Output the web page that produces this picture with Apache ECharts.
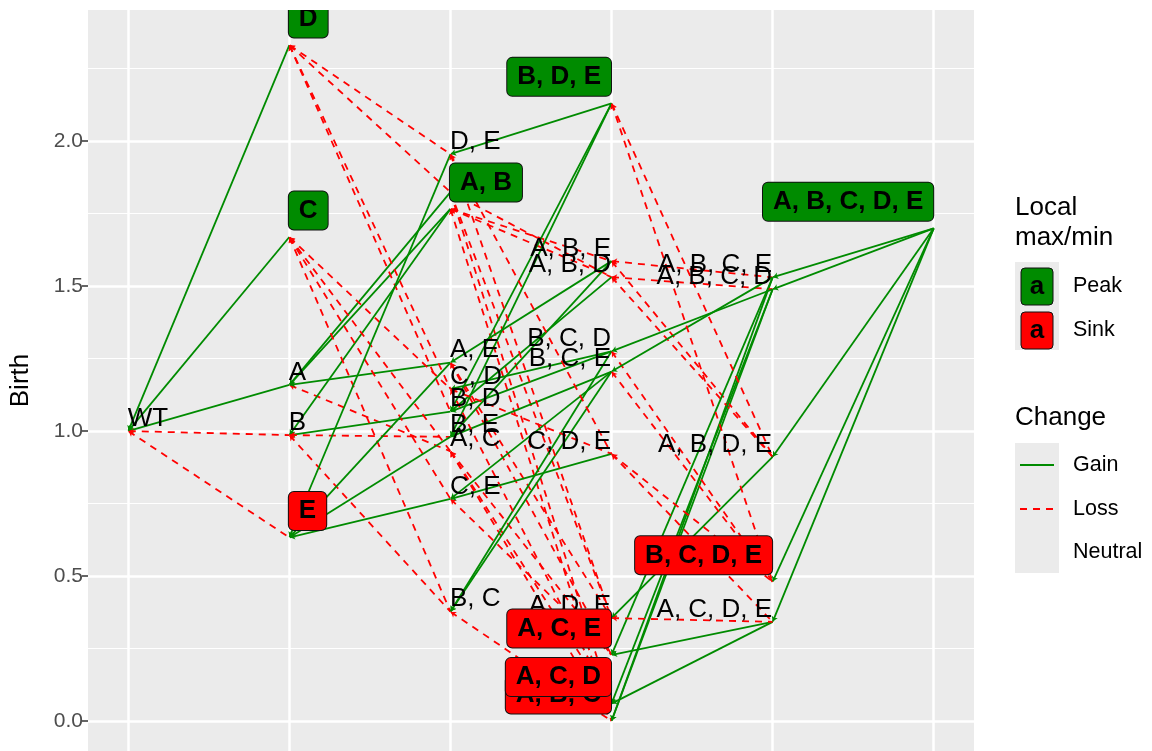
<!DOCTYPE html>
<html>
<head>
<meta charset="utf-8">
<script src="https://cdn.jsdelivr.net/npm/echarts@6/dist/echarts.min.js"></script>
<style>
  html, body { margin: 0; background: #fff; }
  #chart { width: 1152px; height: 751px; }
</style>
</head>
<body>
<div id="chart"></div>
<script>
// genotypes and their birth rate
const genotypes = [
  'WT',
  'A', 'B', 'C', 'D', 'E',
  'A, B', 'A, C', 'A, D', 'A, E', 'B, C', 'B, D', 'B, E', 'C, D', 'C, E', 'D, E',
  'A, B, C', 'A, B, D', 'A, B, E', 'A, C, D', 'A, C, E', 'A, D, E', 'B, C, D', 'B, C, E', 'B, D, E', 'C, D, E',
  'A, B, C, D', 'A, B, C, E', 'A, B, D, E', 'A, C, D, E', 'B, C, D, E',
  'A, B, C, D, E'
]
const birth = [
  1.0,
  1.159, 0.986, 1.669, 2.331, 0.633,
  1.766, 0.93, 1.824, 1.236, 0.377, 1.067, 0.98, 1.145, 0.766, 1.955,
  0.0, 1.531, 1.586, 0.06, 0.228, 0.355, 1.275, 1.205, 2.13, 0.921,
  1.489, 1.53, 0.911, 0.342, 0.48,
  1.699
]
const yTicks = [0, 0.5, 1, 1.5, 2]
const yMinor = [0.25, 0.75, 1.25, 1.75, 2.25]
const xTicks = [0, 1, 2, 3, 4, 5]

const GREEN = '#008B00'
const RED = '#FF0000'
const FONT = '"Liberation Sans", Arial, sans-serif'

const muts = g => g === 'WT' ? [] : g.split(', ')
const level = g => muts(g).length

// one edge per added mutation
const edges = []
genotypes.forEach((p, i) => {
  genotypes.forEach((c, j) => {
    const mp = muts(p), mc = muts(c)
    if (mc.length === mp.length + 1 && mp.every(m => mc.includes(m))) edges.push([i, j])
  })
})

const neighbours = genotypes.map(() => [])
edges.forEach(([i, j]) => { neighbours[i].push(j); neighbours[j].push(i) })
const kind = birth.map((b, i) => {
  if (neighbours[i].every(k => birth[k] < b)) return 'peak'
  if (neighbours[i].every(k => birth[k] > b)) return 'sink'
  return null
})

const nodeLabel = (g, i) => {
  const base = {
    show: true,
    position: [0, 0],
    align: level(g) > 2 ? 'right' : 'left',
    verticalAlign: 'bottom',
    fontFamily: FONT,
    fontSize: 26,
    lineHeight: 26,
    color: '#000'
  }
  if (!kind[i]) return Object.assign(base, { offset: [0, 1] })
  return Object.assign(base, {
    offset: [0, -7],
    fontWeight: 'bold',
    backgroundColor: kind[i] === 'peak' ? GREEN : RED,
    borderColor: '#111',
    borderWidth: 1,
    borderRadius: 5,
    padding: [6, 10]
  })
}

// plain labels first so the boxed ones sit on top
const order = genotypes.map((g, i) => i).sort((a, b) => (kind[a] ? 1 : 0) - (kind[b] ? 1 : 0) || a - b)
const nodes = order.map(i => ({
  name: genotypes[i],
  value: [level(genotypes[i]), birth[i]],
  label: nodeLabel(genotypes[i], i)
}))

const links = edges.map(([i, j]) => {
  const gain = birth[j] > birth[i]
  return {
    source: genotypes[i],
    target: genotypes[j],
    lineStyle: { color: gain ? GREEN : RED, type: gain ? 'solid' : [7, 6], width: 1.8, opacity: 1 }
  }
})

const myChart = echarts.init(document.getElementById('chart'))

const legendText = (x, y, text, size) => ({
  type: 'text', x: x, y: y, z: 10,
  style: { text: text, fill: '#000', font: size + 'px ' + FONT, textVerticalAlign: 'middle' }
})
const legendBox = (y, color) => ([
  { type: 'rect', shape: { x: 1021, y: y, width: 32, height: 37, r: 4 }, z: 10,
    style: { fill: color, stroke: '#111', lineWidth: 1 } },
  { type: 'text', x: 1037, y: y + 19, z: 11,
    style: { text: 'a', fill: '#000', font: 'bold 26px ' + FONT, textAlign: 'center', textVerticalAlign: 'middle' } }
])

const options = {
  animation: false,
  backgroundColor: '#fff',
  grid: { left: 88, right: 178, top: 10, bottom: 0, show: true, backgroundColor: '#EBEBEB', borderWidth: 0 },
  xAxis: {
    type: 'value', min: -0.25, max: 5.25,
    axisLine: { show: false, onZero: false },
    axisLabel: { show: false, customValues: xTicks },
    axisTick: { show: true, customValues: xTicks, lineStyle: { color: '#333' } },
    splitLine: { show: true, lineStyle: { color: '#fff', width: 2.5 } }
  },
  yAxis: [
    {
      type: 'value', min: -0.1034, max: 2.452,
      axisLine: { show: false, onZero: false },
      axisTick: { show: true, customValues: yTicks, length: 6, lineStyle: { color: '#333', width: 1.5 } },
      axisLabel: { customValues: yTicks, formatter: v => v.toFixed(1), color: '#4D4D4D', fontSize: 21, fontFamily: FONT, margin: 5 },
      splitLine: { show: true, lineStyle: { color: '#fff', width: 2.5 } },
      name: 'Birth', nameLocation: 'middle', nameGap: 54,
      nameTextStyle: { fontSize: 26, color: '#000', fontFamily: FONT }
    },
    {
      type: 'value', min: -0.1034, max: 2.452, position: 'left',
      axisLine: { show: false, onZero: false },
      axisTick: { show: false, customValues: yMinor },
      axisLabel: { show: false, customValues: yMinor },
      splitLine: { show: true, lineStyle: { color: '#fff', width: 1.2 } }
    }
  ],
  series: [
    {
      type: 'graph',
      layout: 'none',
      coordinateSystem: 'cartesian2d',
      xAxisIndex: 0,
      yAxisIndex: 0,
      symbolSize: 1,
      itemStyle: { color: 'rgba(0,0,0,0)' },
      edgeSymbol: ['arrow', 'none'],
      edgeSymbolSize: [5, 0],
      emphasis: { disabled: true },
      data: nodes,
      links: links
    }
  ],
  graphic: [
    // clip labels at the panel top
    { type: 'rect', shape: { x: 0, y: 0, width: 1152, height: 10 }, z: 9, style: { fill: '#fff' } },
    legendText(1015, 208, 'Local', 26),
    legendText(1015, 238, 'max/min', 26),
    { type: 'rect', shape: { x: 1015, y: 262, width: 44, height: 88 }, z: 9, style: { fill: '#EBEBEB' } },
    ...legendBox(268, GREEN),
    ...legendBox(312, RED),
    legendText(1073, 286, 'Peak', 21.5),
    legendText(1073, 330, 'Sink', 21.5),
    legendText(1015, 418, 'Change', 26),
    { type: 'rect', shape: { x: 1015, y: 443, width: 44, height: 130 }, z: 9, style: { fill: '#EBEBEB' } },
    { type: 'line', shape: { x1: 1020, y1: 465, x2: 1054, y2: 465 }, z: 10, style: { stroke: GREEN, lineWidth: 2 } },
    { type: 'line', shape: { x1: 1020, y1: 509, x2: 1054, y2: 509 }, z: 10, style: { stroke: RED, lineWidth: 2, lineDash: [7, 6] } },
    legendText(1073, 465, 'Gain', 21.5),
    legendText(1073, 509, 'Loss', 21.5),
    legendText(1073, 552, 'Neutral', 21.5)
  ]
}
myChart.setOption(options)
</script>
</body>
</html>
